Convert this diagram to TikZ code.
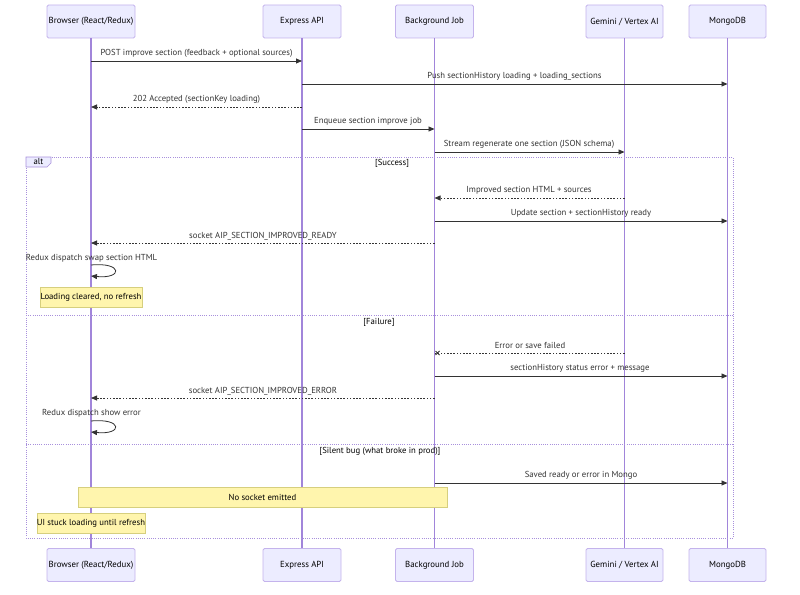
\documentclass[tikz,border=0pt]{standalone}
\usepackage{fontspec}
\setmainfont{PT Sans}
\usetikzlibrary{arrows.meta}
\definecolor{actfill}{HTML}{ECECFF}
\definecolor{actline}{HTML}{C4B3EC}
\definecolor{lifeline}{HTML}{A185DA}
\definecolor{altline}{HTML}{A890DC}
\definecolor{notefill}{HTML}{FFF5AD}
\definecolor{noteline}{HTML}{D6CF7E}
\definecolor{txt}{HTML}{333333}
\tikzset{
  actor/.style={draw=actline, fill=actfill, line width=0.8pt, rounded corners=1.5pt, minimum height=33pt, inner sep=0pt, font=\fontsize{8.8}{10}\selectfont, text=black},
  msg/.style={draw=txt, line width=0.8pt, -{Triangle[length=6pt,width=5pt]}},
  reply/.style={draw=txt, line width=0.8pt, dash pattern=on 1.6pt off 1.6pt, -{Triangle[length=6pt,width=5pt]}},
  lost/.style={draw=txt, line width=0.8pt, dash pattern=on 1.6pt off 1.6pt},
  lbl/.style={font=\fontsize{8.7}{10}\selectfont, text=txt, inner sep=0pt},
  note/.style={draw=noteline, fill=notefill, line width=0.6pt, inner sep=0pt, font=\fontsize{8.7}{10}\selectfont, text=black},
  lifel/.style={draw=lifeline, line width=1.1pt},
  altbox/.style={draw=altline, line width=0.8pt, dash pattern=on 1pt off 1.2pt},
}
\begin{document}
\begin{tikzpicture}[x=1pt,y=-1pt]
\useasboundingbox (0,0) rectangle (800,594);
% participants top
\node[actor, minimum width=88pt] (b) at (91,21.5) {Browser (React/Redux)};
\node[actor, minimum width=78pt] (e) at (302,21.5) {Express API};
\node[actor, minimum width=78pt] (j) at (434.5,21.5) {Background Job};
\node[actor, minimum width=77pt] (g) at (624.5,21.5) {Gemini / Vertex AI};
\node[actor, minimum width=77pt] (m) at (727.5,21.5) {MongoDB};
% participants bottom
\node[actor, minimum width=88pt] (b2) at (91,565) {Browser (React/Redux)};
\node[actor, minimum width=78pt] (e2) at (302,565) {Express API};
\node[actor, minimum width=78pt] (j2) at (434.5,565) {Background Job};
\node[actor, minimum width=77pt] (g2) at (624.5,565) {Gemini / Vertex AI};
\node[actor, minimum width=77pt] (m2) at (727.5,565) {MongoDB};
% lifelines
\foreach \a/\c in {b/b2,e/e2,j/j2,g/g2,m/m2}{\draw[lifel] (\a.south) -- (\c.north);}
% alt frame
\draw[altbox] (26,157) rectangle (733,538);
\draw[altbox] (26,315) -- (733,315);
\draw[altbox] (26,444) -- (733,444);
\filldraw[draw=altline, fill=actfill, line width=0.6pt] (26,157) -- (51,157) -- (51,163) -- (47,167) -- (26,167) -- cycle;
\node[lbl, text=black] (alttag) at (38.5,162) {alt};
\node[lbl, text=black] (s1) at (392,163) {[Success]};
\node[lbl, text=black] (s2) at (379,322) {[Failure]};
\node[lbl, text=black] (s3) at (380,451) {[Silent bug (what broke in prod)]};
% messages
\draw[msg] (b.south |- 0,61) -- (e.south |- 0,61);
\node[lbl] (l1) at (196.5,53) {POST improve section (feedback + optional sources)};
\draw[msg] (e.south |- 0,84) -- (m.south |- 0,84);
\node[lbl] (l2) at (514.5,76.5) {Push sectionHistory loading + loading\_sections};
\draw[reply] (e.south |- 0,107) -- (b.south |- 0,107);
\node[lbl] (l3) at (196.5,99) {202 Accepted (sectionKey loading)};
\draw[msg] (e.south |- 0,129) -- (j.south |- 0,129);
\node[lbl] (l4) at (368,121.5) {Enqueue section improve job};
\draw[msg] (j.south |- 0,152) -- (g.south |- 0,152);
\node[lbl] (l5) at (529,144.5) {Stream regenerate one section (JSON schema)};
% success
\draw[reply] (g.south |- 0,198) -- (j.south |- 0,198);
\node[lbl] (l6) at (529,190.5) {Improved section HTML + sources};
\draw[msg] (j.south |- 0,221) -- (m.south |- 0,221);
\node[lbl] (l7) at (581,213) {Update section + sectionHistory ready};
\draw[reply] (j.south |- 0,243) -- (b.south |- 0,243);
\node[lbl] (l8) at (263,236) {socket AIP\_SECTION\_IMPROVED\_READY};
\node[lbl] (l9) at (91.5,258) {Redux dispatch swap section HTML};
\draw[msg] (b.south |- 0,265) .. controls (123,262) and (123,279) .. (b.south |- 0,276);
\node[note, minimum width=102pt, minimum height=20pt] (n1) at (91,297) {Loading cleared, no refresh};
% failure
\draw[lost] (g.south |- 0,353) -- (j.south |- 0,353);
\draw[draw=txt, line width=0.8pt] ([xshift=1pt]j.south |- 0,351) -- ([xshift=5pt]j.south |- 0,355) ([xshift=1pt]j.south |- 0,355) -- ([xshift=5pt]j.south |- 0,351);
\node[lbl] (l10) at (530,345) {Error or save failed};
\draw[msg] (j.south |- 0,376) -- (m.south |- 0,376);
\node[lbl] (l11) at (580,368) {sectionHistory status error + message};
\draw[reply] (j.south |- 0,398) -- (b.south |- 0,398);
\node[lbl] (l12) at (263,391) {socket AIP\_SECTION\_IMPROVED\_ERROR};
\node[lbl] (l13) at (91.5,413) {Redux dispatch show error};
\draw[msg] (b.south |- 0,421) .. controls (123,418) and (123,435) .. (b.south |- 0,432);
% silent bug
\draw[msg] (j.south |- 0,483) -- (m.south |- 0,483);
\node[lbl] (l14) at (581,475) {Saved ready or error in Mongo};
\node[note, minimum width=369pt, minimum height=20pt] (n2) at (262.5,497) {No socket emitted};
\node[note, minimum width=108pt, minimum height=20pt] (n3) at (91,523) {UI stuck loading until refresh};
\end{tikzpicture}
\end{document}
